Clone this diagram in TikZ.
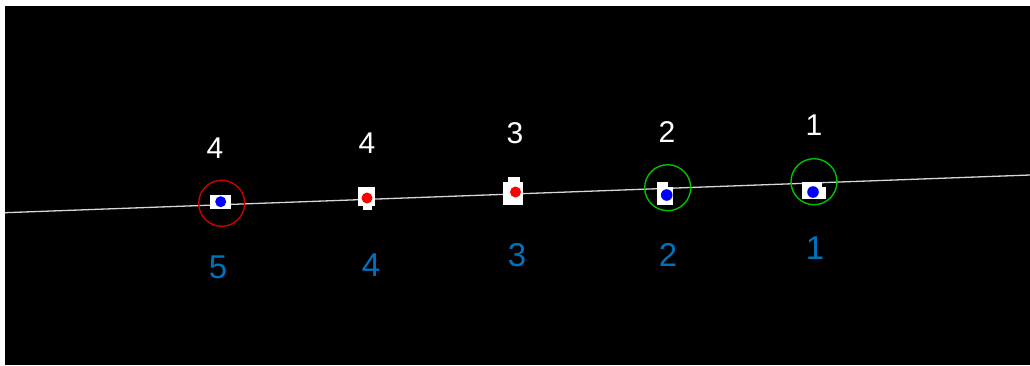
\documentclass[tikz,border=0pt]{standalone}
\usepackage{fontspec}
\setmainfont{Liberation Sans}
\definecolor{lblblue}{RGB}{0,114,189}
\definecolor{ringred}{RGB}{205,0,0}
\definecolor{ringgreen}{RGB}{0,195,0}
\definecolor{dotblue}{RGB}{0,0,255}
\definecolor{dotred}{RGB}{255,0,0}
\definecolor{trackgray}{RGB}{215,215,215}
\begin{document}
\begin{tikzpicture}[x=1pt,y=-1pt,
  toplbl/.style={text=white,font=\fontsize{30}{30}\selectfont,inner sep=0pt},
  botlbl/.style={text=lblblue,font=\fontsize{33}{33}\selectfont,inner sep=0pt},
  ring/.style={line width=1.4pt},
  marker/.style={fill=white},
  bdot/.style={fill=dotblue},
  rdot/.style={fill=dotred}]
\useasboundingbox (0,0) rectangle (1030,365);
\fill[white] (0,0) rectangle (1030,365);
\fill[black] (5,6) rectangle (1030,365);
% track line
\coordinate (tl) at (5,212.7);
\coordinate (tr) at (1030,175);
\draw[trackgray,line width=1.3pt] (tl) -- (tr);
% marker 5 (leftmost)
\fill[marker] (210,195) rectangle (231,209);
\fill[bdot] (220.7,201.7) circle (5.5);
\draw[ring,ringred] (221.7,203.3) circle (23);
% marker 4
\fill[marker] (358,187) rectangle (375,206);
\fill[marker] (363,205) rectangle (372,209.5);
\fill[rdot] (367,198) circle (5.5);
% marker 3
\fill[marker] (503,182) rectangle (523,205);
\fill[marker] (508,177) rectangle (520,183);
\fill[rdot] (515.5,192) circle (5.5);
% marker 2
\fill[marker] (657,187) rectangle (673,205);
\fill[marker] (657,182) rectangle (668,188);
\fill[bdot] (666.7,195) circle (5.8);
\draw[ring,ringgreen] (667.7,187.7) circle (23);
% marker 1
\fill[marker] (802,186.5) rectangle (825.5,199);
\fill[marker] (802,182) rectangle (821.5,187);
\fill[bdot] (813,192) circle (5.8);
\draw[ring,ringgreen] (814,181.7) circle (23);
% labels
\node[toplbl] (t5) at (215,148) {4};
\node[toplbl] (t4) at (367,143) {4};
\node[toplbl] (t3) at (515,133) {3};
\node[toplbl] (t2) at (667,132) {2};
\node[toplbl] (t1) at (814,125) {1};
\node[botlbl] (b5) at (218,267) {5};
\node[botlbl] (b4) at (371,265) {4};
\node[botlbl] (b3) at (517,255) {3};
\node[botlbl] (b2) at (668,255) {2};
\node[botlbl] (b1) at (815,248) {1};
\end{tikzpicture}
\end{document}
